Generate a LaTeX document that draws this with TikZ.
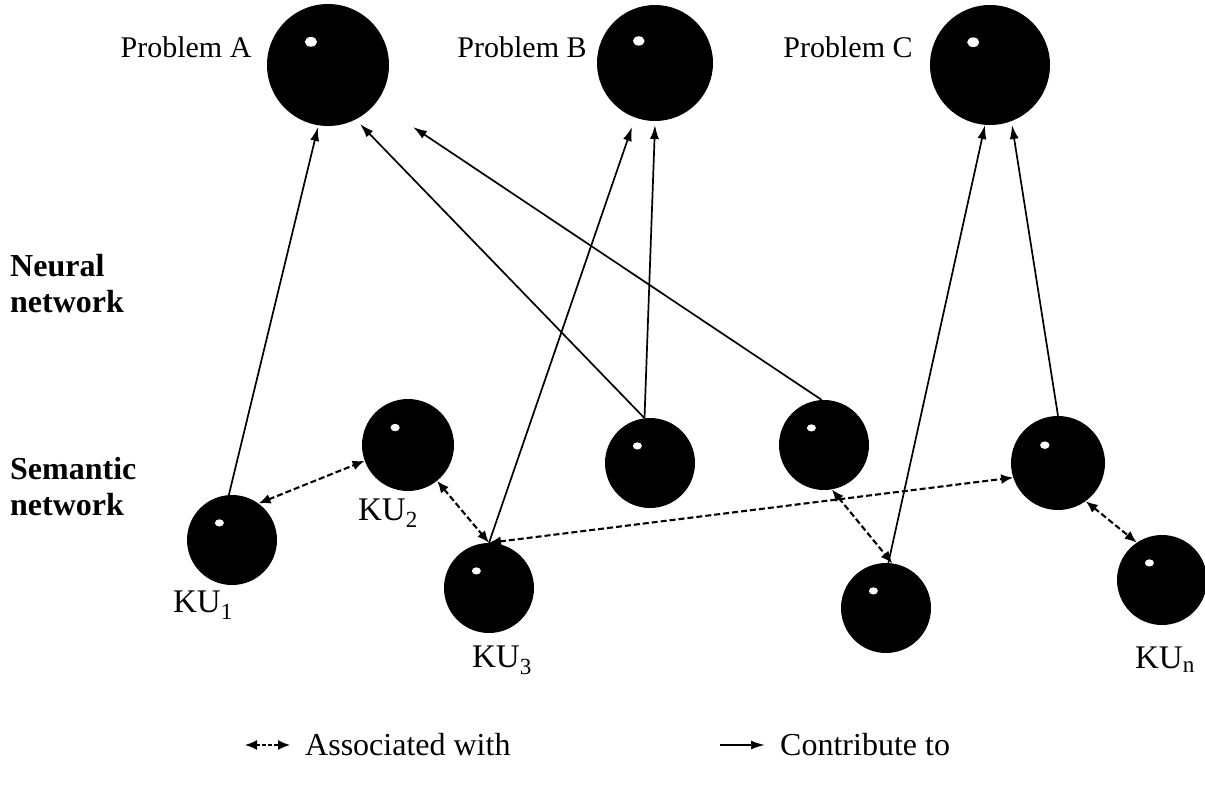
\documentclass[tikz,border=0pt]{standalone}
\usepackage{fontspec}
\setmainfont{Liberation Serif}
\usetikzlibrary{arrows.meta}
\begin{document}
\begin{tikzpicture}[x=1pt,y=-1pt,
  ball/.style={circle, fill=black, inner sep=0pt},
  lbl/.style={font=\fontsize{30}{34}\selectfont, inner sep=0pt},
  kulbl/.style={font=\fontsize{33}{36}\selectfont, inner sep=0pt},
  leg/.style={font=\fontsize{32}{36}\selectfont, inner sep=0pt, anchor=west},
  side/.style={font=\fontsize{32}{36}\selectfont\bfseries, inner sep=0pt, align=left, anchor=west},
  contrib/.style={line width=1.7pt, -{Latex[length=14pt,width=9pt]}},
  assoc/.style={line width=2.1pt, dash pattern=on 6pt off 3pt,
    {Latex[length=12pt,width=10pt]}-{Latex[length=12pt,width=10pt]}}]
\useasboundingbox (0,0) rectangle (1205,793);

% spheres with a small white highlight
\foreach \n/\x/\y/\r in {pA/328/65/61, pB/655/63/58, pC/990/65/60,
    ku1/232/540/45, ku2/408/445/46, ku3/489/588/45, b4/650/463/45,
    b5/824/445/45, b6/1058/463/47, b7/886/608/45, kun/1162/580/45}{
  \node[ball, minimum size=2*\r] (\n) at (\x,\y) {};
  \fill[white] (\x-0.28*\r, \y-0.38*\r) ellipse ({0.1*\r} and {0.08*\r});
}

% labels
\node[lbl] (la) at (186,47) {Problem A};
\node[lbl] (lb) at (522,47) {Problem B};
\node[lbl] (lc) at (848,47) {Problem C};
\node[side] (nn) at (10,284) {Neural\\network};
\node[side] (sn) at (10,487) {Semantic\\network};
\node[kulbl] (k1) at (203,605) {KU\textsubscript{1}};
\node[kulbl] (k2) at (388,513) {KU\textsubscript{2}};
\node[kulbl] (k3) at (502,660) {KU\textsubscript{3}};
\node[kulbl] (kn) at (1165,660) {KU\textsubscript{n}};

% arrow tips below the problem spheres
\coordinate (tA1) at (318,127);
\coordinate (tA2) at (360,124);
\coordinate (tA3) at (413,127);
\coordinate (tB1) at (632,127);
\coordinate (tB2) at (655,125);
\coordinate (tC1) at (985,125);
\coordinate (tC2) at (1012,125);

% contribute to
\draw[contrib] (ku1.94) -- (tA1);
\draw[contrib] (b4.97) -- (tA2);
\draw[contrib] (b4.97) -- (tB2);
\draw[contrib] (b5.93) -- (tA3);
\draw[contrib] (ku3.north) -- (tB1);
\draw[contrib] (b7.87) -- (tC1);
\draw[contrib] (b6.north) -- (tC2);

% associated with
\draw[assoc] (ku1.54) -- (ku2.200);
\draw[assoc] (ku2.-51) -- (ku3.north);
\draw[assoc] (ku3.north) -- (b6.198);
\draw[assoc] (b5.-80) -- (b7.82);
\draw[assoc] (b6.-54) -- (kun.124);

% legend
\coordinate (la1) at (245,745);
\coordinate (la2) at (290,745);
\coordinate (lc1) at (720,745);
\coordinate (lc2) at (765,745);
\draw[assoc, line width=1.5pt, dash pattern=on 4pt off 2pt] (la1) -- (la2);
\draw[contrib] (lc1) -- (lc2);
\node[leg] (ta) at (305,745) {Associated with};
\node[leg] (tc) at (780,745) {Contribute to};
\end{tikzpicture}
\end{document}
